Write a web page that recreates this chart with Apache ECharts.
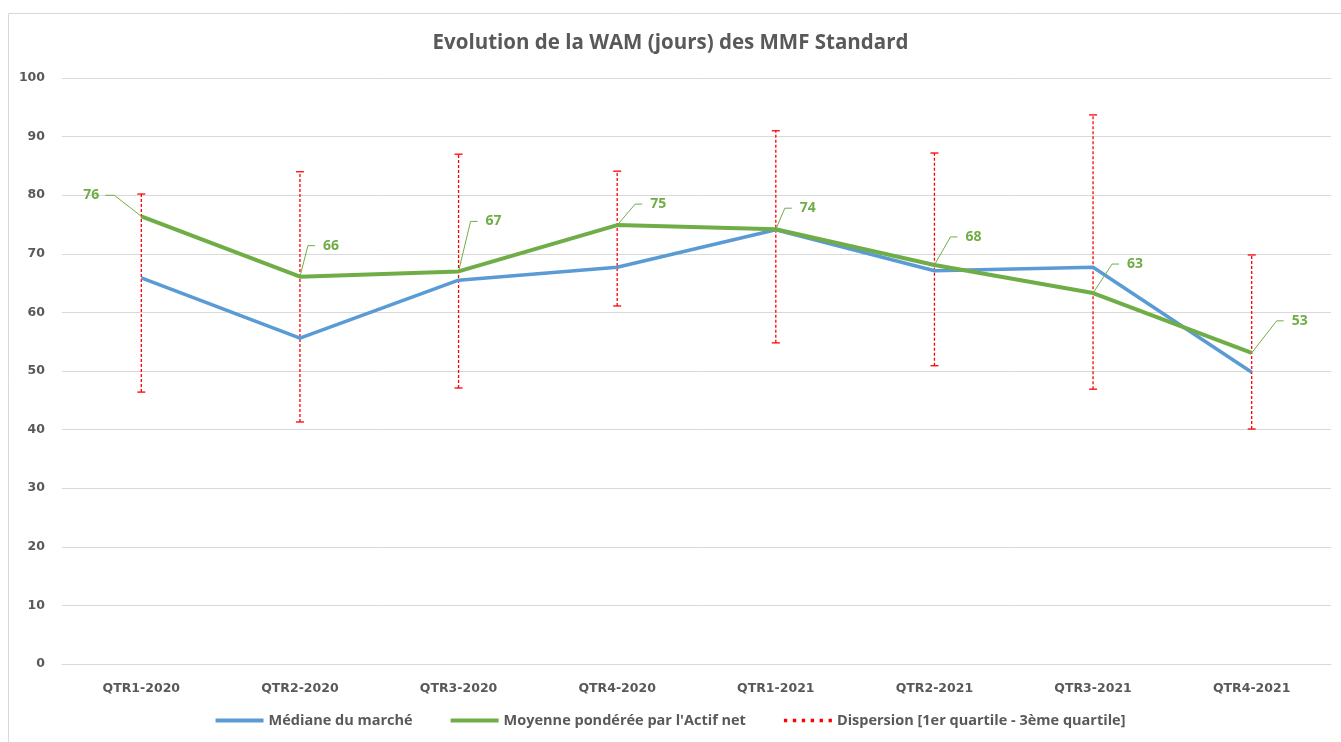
<!DOCTYPE html>
<html><head><meta charset="utf-8">
<script src="https://cdn.jsdelivr.net/npm/echarts@6/dist/echarts.min.js"></script>
<style>html,body{margin:0;padding:0;background:#fff}#c{width:1341px;height:742px}</style>
</head><body><div id="c"></div>
<script>
const categories = ['QTR1-2020','QTR2-2020','QTR3-2020','QTR4-2020','QTR1-2021','QTR2-2021','QTR3-2021','QTR4-2021'];
const mediane = [65.9, 55.6, 65.5, 67.7, 74.1, 67.1, 67.7, 49.8];
const moyenne = [76.4, 66.1, 67.0, 74.9, 74.2, 68.1, 63.3, 53.1];
const q1 = [46.4, 41.3, 47.1, 61.1, 54.8, 50.9, 46.9, 40.1];
const q3 = [80.2, 84.0, 87.0, 84.1, 91.0, 87.2, 93.7, 69.8];
const yTicks = [0,10,20,30,40,50,60,70,80,90,100];

// label placement (pixel offsets of the label centre from its point) – layout only
const labelOffsets = [[-50,-21],[31,-31],[35,-50],[41,-21],[32,-21],[39,-28],[42,-29],[48,-32]];

const names = ['Médiane du marché', "Moyenne pondérée par l'Actif net", 'Dispersion [1er quartile - 3ème quartile]'];
const FONT = '"Open Sans", "Noto Sans", sans-serif';
const AXFONT = '"DejaVu Sans", Verdana, sans-serif';
const GREEN = '#70ad47';
const dotsIcon = 'path://M0,0h3v3h-3z M8,0h3v3h-3z M16,0h3v3h-3z M24,0h3v3h-3z M32,0h3v3h-3z M40,0h3v3h-3z';
const chart = echarts.init(document.getElementById('c'));
chart.setOption({
  animation: false,
  graphic: [{type:'rect', shape:{x:8.5,y:13.5,width:1340,height:740}, style:{fill:'none', stroke:'#d9d9d9', lineWidth:1}, silent:true}],
  title: {text:'Evolution de la WAM (jours) des MMF Standard', left:'center', top:28,
    textStyle:{fontFamily:FONT, fontSize:20.5, fontWeight:'bold', color:'#595959'}},
  legend: {bottom:9, left:'center', itemWidth:48, itemHeight:4, itemGap:38,
    textStyle:{fontFamily:FONT, fontSize:14.5, fontWeight:'bold', color:'#595959'},
    data:[
      {name:names[0], icon:'rect', itemStyle:{color:'#5b9bd5'}},
      {name:names[1], icon:'rect', itemStyle:{color:GREEN}},
      {name:names[2], icon:dotsIcon, itemStyle:{color:'#ff0000'}}
    ]},
  grid: {left:62, right:10, top:78, bottom:78},
  xAxis: {type:'category', data:categories, boundaryGap:true,
    axisLine:{lineStyle:{color:'#d9d9d9'}}, axisTick:{show:false},
    axisLabel:{fontFamily:AXFONT, fontSize:12.5, fontWeight:'bold', color:'#595959', margin:18}},
  yAxis: {type:'value', min:0, max:100, interval:10,
    axisLabel:{fontFamily:AXFONT, fontSize:12.5, fontWeight:'bold', color:'#595959', margin:17,
      formatter: v => yTicks.includes(v) ? String(v) : ''},
    splitLine:{lineStyle:{color:'#d9d9d9'}}, axisLine:{show:false}, axisTick:{show:false}},
  series: [
    {name:names[0], type:'line', data:mediane, symbol:'none',
      lineStyle:{color:'#5b9bd5', width:3.5}, itemStyle:{color:'#5b9bd5'}, z:3},
    {name:names[1], type:'line', data:moyenne, symbol:'none',
      lineStyle:{color:GREEN, width:4}, itemStyle:{color:GREEN}, z:4},
    {name:names[2], type:'custom', z:2,
      itemStyle:{color:'#ff0000'},
      data: categories.map((c,i)=>[i, q1[i], q3[i]]),
      renderItem: (params, api) => {
        const lo = api.coord([api.value(0), api.value(1)]);
        const hi = api.coord([api.value(0), api.value(2)]);
        const st = {stroke:'#ff0000', lineWidth:1.3, lineDash:[3,2]};
        const cap = {stroke:'#ff0000', lineWidth:1.3};
        return {type:'group', children:[
          {type:'line', shape:{x1:lo[0],y1:lo[1],x2:hi[0],y2:hi[1]}, style:st},
          {type:'line', shape:{x1:lo[0]-4,y1:lo[1],x2:lo[0]+4,y2:lo[1]}, style:cap},
          {type:'line', shape:{x1:hi[0]-4,y1:hi[1],x2:hi[0]+4,y2:hi[1]}, style:cap}
        ]};
      }},
    {name:'labels', type:'custom', z:5, silent:true,
      data: moyenne.map((v,i)=>[i, v]),
      renderItem: (params, api) => {
        const i = params.dataIndex;
        const p = api.coord([api.value(0), api.value(1)]);
        const off = labelOffsets[i];
        const lx = p[0] + off[0], ly = p[1] + off[1];
        const left = off[0] < 0;
        const edge = left ? lx + 9 : lx - 8;
        const h1 = left ? edge + 5 : edge - 8;
        const h2 = left ? h1 + 9 : h1 - 7;
        const lineStyle = {stroke:GREEN, lineWidth:1, fill:null};
        return {type:'group', children:[
          {type:'polyline', shape:{points:[[p[0],p[1]],[h2,ly],[h1,ly]]}, style:lineStyle},
          {type:'text', x:lx, y:ly, style:{text:String(Math.round(api.value(1))), align:'center', verticalAlign:'middle',
            font:'bold 14px "Open Sans", "Noto Sans", sans-serif', fill:GREEN}}
        ]};
      }}
  ]
});
</script></body></html>
